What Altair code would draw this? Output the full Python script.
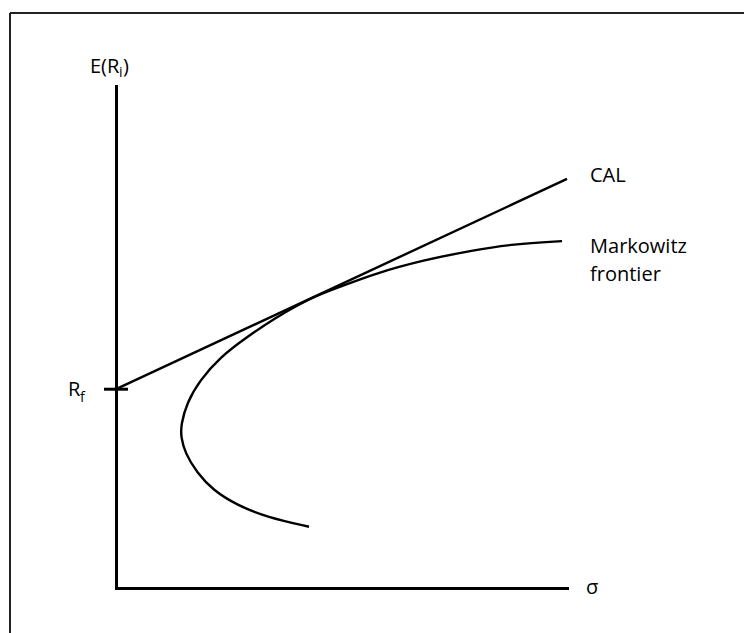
import altair as alt
import pandas as pd

# Efficient (Markowitz) frontier, traced from the lower branch up to the top end
frontier_sigma = [42.8, 33.5, 26.8, 21.5, 18.0, 15.3, 14.4, 14.4, 15.7, 18.6, 23.1,
                  29.0, 35.7, 40.4, 44.1, 49.7, 57.6, 68.1, 79.2, 88.0, 98.9]
frontier_return = [12.2, 14.1, 16.5, 19.5, 22.9, 26.9, 30.1, 32.5, 36.9, 41.4, 46.0,
                   50.0, 54.0, 56.4, 58.1, 60.0, 62.7, 65.3, 67.3, 68.5, 69.1]

# Risk-free rate and the capital allocation line through it
risk_free = 39.6
cal_sigma = [0, 100]
cal_return = [risk_free, 81.5]

sigma_range = [0, 100]
return_range = [0, 100]

FONT = "Open Sans"
INK = "#000000"

frontier = pd.DataFrame({
    "sigma": frontier_sigma,
    "ret": frontier_return,
    "step": list(range(len(frontier_sigma))),
})
cal = pd.DataFrame({"sigma": cal_sigma, "ret": cal_return, "step": [0, 1]})
origin = pd.DataFrame({"sigma": [sigma_range[0]], "ret": [risk_free]})
cal_end = pd.DataFrame({"sigma": [cal_sigma[-1]], "ret": [cal_return[-1]]})
frontier_end = pd.DataFrame({"sigma": [frontier_sigma[-1]], "ret": [frontier_return[-1]]})
y_top = pd.DataFrame({"sigma": [sigma_range[0]], "ret": [return_range[1]]})
x_end = pd.DataFrame({"sigma": [sigma_range[1]], "ret": [return_range[0]]})

x_scale = alt.Scale(domain=sigma_range, nice=False, zero=False)
y_scale = alt.Scale(domain=return_range, nice=False, zero=False)

axis_style = dict(domain=True, domainColor=INK, domainWidth=3, domainCap="square",
                  ticks=False, labels=False, grid=False)


def xy(df):
    return alt.Chart(df).encode(
        x=alt.X("sigma:Q", scale=x_scale, axis=alt.Axis(**axis_style), title=None),
        y=alt.Y("ret:Q", scale=y_scale, axis=alt.Axis(**axis_style), title=None),
    )


frontier_line = xy(frontier).mark_line(
    color=INK, strokeWidth=2.4, interpolate="basis"
).encode(order=alt.Order("step:Q"))

cal_line = xy(cal).mark_line(color=INK, strokeWidth=2.4).encode(order=alt.Order("step:Q"))

rf_tick = xy(origin).mark_tick(orient="horizontal", size=24, thickness=3,
                               color=INK, opacity=1)


def label(df, text, size=20, **kw):
    return xy(df).mark_text(text=text, font=FONT, fontSize=size, color=INK,
                            align="left", baseline="alphabetic", **kw)


labels = [
    label(cal_end, "CAL", dx=23, dy=3),
    label(frontier_end, "Markowitz", dx=28, dy=12),
    label(frontier_end, "frontier", dx=28, dy=40),
    label(x_end, "σ", dx=19, dy=6),
    # E(R_i) above the vertical axis
    label(y_top, "E(R", dx=-26, dy=-13),
    label(y_top, "i", size=14, dx=3, dy=-9),
    label(y_top, ")", dx=7, dy=-13),
    # R_f beside the risk-free tick
    label(origin, "R", dx=-48, dy=7),
    label(origin, "f", size=14, dx=-36, dy=13),
]

# thin frame along the top and left edges of the figure
frame_left = alt.Chart(origin).mark_rule(color="#222222", strokeWidth=2).encode(
    x=alt.value(-106), y=alt.value(-73), y2=alt.value(547)
)
frame_top = alt.Chart(origin).mark_rule(color="#222222", strokeWidth=2).encode(
    x=alt.value(-106), x2=alt.value(628), y=alt.value(-73)
)

chart = alt.layer(
    frame_left, frame_top, cal_line, frontier_line, rf_tick, *labels
).properties(
    width=451,
    height=502,
    autosize=alt.AutoSizeParams(type="none"),
    padding={"left": 116, "top": 86, "right": 177, "bottom": 45},
    background="white",
).configure_view(stroke=None)

chart.save("out.html", embed_options={"renderer": "svg", "actions": False})
